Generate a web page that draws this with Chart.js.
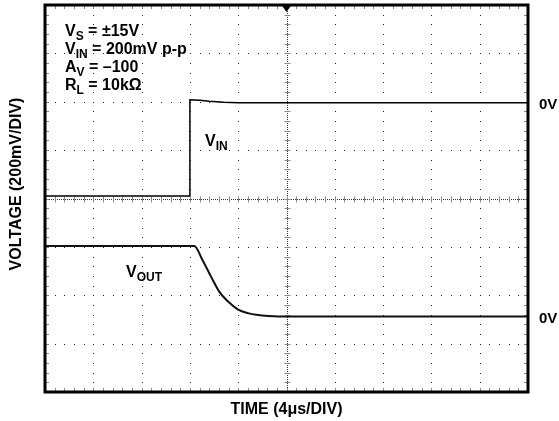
<!DOCTYPE html>
<html>
<head>
<meta charset="utf-8">
<script src="https://cdn.jsdelivr.net/npm/chart.js@4/dist/chart.umd.min.js"></script>
<style>
  html, body { margin: 0; padding: 0; background: #fff; }
  #wrap { width: 559px; height: 421px; }
</style>
</head>
<body>
<div id="wrap"><canvas id="scope"></canvas></div>
<script>
// graticule: 10 x 8 divisions (time 4us/div, voltage 200mV/div)
const xDivs = 10;
const yDivs = 8;

// V_IN trace (x in divisions, y in divisions from bottom)
const vinTime  = [0, 3.0, 3.0, 3.2, 3.4, 3.7, 4.0, 10];
const vinLevel = [4.05, 4.05, 6.04, 6.03, 6.01, 5.99, 5.98, 5.98];

// V_OUT trace
const voutTime  = [0, 3.09, 3.26, 3.44, 3.61, 3.79, 3.99, 4.2, 4.41, 4.62, 4.83, 5.24, 10];
const voutLevel = [3.02, 3.02, 2.73, 2.38, 2.07, 1.87, 1.71, 1.63, 1.59, 1.57, 1.56, 1.56, 1.56];

// "0V" reference markers on the right
const zeroLevels = [5.98, 1.56];

const FONT = '"Liberation Sans", Arial, sans-serif';

function toPoints(xs, ys) {
    return xs.map((v, i) => ({x: v, y: ys[i]}));
}

// draws text with a subscript part
function subText(ctx, x, y, main, sub, rest) {
    ctx.font = 'bold 16px ' + FONT;
    ctx.fillText(main, x, y);
    x += ctx.measureText(main).width;
    ctx.font = 'bold 12px ' + FONT;
    ctx.fillText(sub, x, y + 4);
    x += ctx.measureText(sub).width;
    if (rest) {
        ctx.font = 'bold 16px ' + FONT;
        ctx.fillText(rest, x, y);
    }
}

const graticule = {
    id: 'graticule',
    beforeDatasetsDraw(chart) {
        const {ctx, chartArea: a, scales: {x, y}} = chart;
        ctx.save();
        const midX = Math.round(x.getPixelForValue(xDivs / 2)) + 0.5;
        const midY = Math.round(y.getPixelForValue(yDivs / 2)) + 0.5;

        // dotted grid: one dot per minor step
        ctx.fillStyle = '#222';
        for (let i = 1; i < xDivs; i++) {
            if (i === xDivs / 2) continue;
            const px = Math.round(x.getPixelForValue(i));
            for (let j = 1; j < yDivs * 5; j++) {
                ctx.fillRect(px, Math.round(y.getPixelForValue(j * 0.2)), 1, 1);
            }
        }
        for (let j = 1; j < yDivs; j++) {
            if (j === yDivs / 2) continue;
            const py = Math.round(y.getPixelForValue(j));
            for (let i = 1; i < xDivs * 5; i++) {
                ctx.fillRect(Math.round(x.getPixelForValue(i * 0.2)), py, 1, 1);
            }
        }

        // centre cross with minor ticks
        ctx.strokeStyle = '#333';
        ctx.lineWidth = 1;
        ctx.setLineDash([1, 1]);
        ctx.beginPath();
        ctx.moveTo(midX, a.top); ctx.lineTo(midX, a.bottom);
        ctx.moveTo(a.left, midY); ctx.lineTo(a.right, midY);
        ctx.stroke();
        ctx.setLineDash([]);
        ctx.strokeStyle = '#888';
        ctx.beginPath();
        for (let j = 1; j < yDivs * 5; j++) {
            const py = Math.round(y.getPixelForValue(j * 0.2)) + 0.5;
            ctx.moveTo(midX - 3, py); ctx.lineTo(midX + 3, py);
            ctx.moveTo(a.left, py); ctx.lineTo(a.left + 4, py);
            ctx.moveTo(a.right - 4, py); ctx.lineTo(a.right, py);
        }
        for (let i = 1; i < xDivs * 5; i++) {
            const px = Math.round(x.getPixelForValue(i * 0.2)) + 0.5;
            ctx.moveTo(px, midY - 3); ctx.lineTo(px, midY + 3);
            ctx.moveTo(px, a.top); ctx.lineTo(px, a.top + 4);
            ctx.moveTo(px, a.bottom - 4); ctx.lineTo(px, a.bottom);
        }
        ctx.stroke();
        ctx.restore();
    },
    afterDraw(chart) {
        const {ctx, chartArea: a, scales: {x, y}} = chart;
        ctx.save();
        // frame
        ctx.strokeStyle = '#000';
        ctx.lineWidth = 3;
        ctx.strokeRect(a.left, a.top, a.right - a.left, a.bottom - a.top);

        // trigger marker
        const cx = x.getPixelForValue(xDivs / 2);
        ctx.fillStyle = '#000';
        ctx.beginPath();
        ctx.moveTo(cx - 5, a.top);
        ctx.lineTo(cx + 5, a.top);
        ctx.lineTo(cx, a.top + 7);
        ctx.closePath();
        ctx.fill();

        // conditions block
        ctx.textBaseline = 'alphabetic';
        ctx.textAlign = 'left';
        subText(ctx, 65, 36, 'V', 'S', ' = ±15V');
        subText(ctx, 65, 54, 'V', 'IN', ' = 200mV p-p');
        subText(ctx, 65, 72, 'A', 'V', ' = –100');
        subText(ctx, 65, 90, 'R', 'L', ' = 10kΩ');

        // trace labels
        subText(ctx, 205, 146, 'V', 'IN', '');
        subText(ctx, 126, 277, 'V', 'OUT', '');

        // 0V markers
        ctx.font = 'bold 15px ' + FONT;
        ctx.textBaseline = 'middle';
        zeroLevels.forEach(v => ctx.fillText('0V', 539, y.getPixelForValue(v) + 2));

        // axis titles
        ctx.font = 'bold 16px ' + FONT;
        ctx.textAlign = 'center';
        ctx.fillText('TIME (4μs/DIV)', (a.left + a.right) / 2, 410);
        ctx.translate(17, 184);
        ctx.rotate(-Math.PI / 2);
        ctx.fillText('VOLTAGE (200mV/DIV)', 0, 0);
        ctx.restore();
    }
};

new Chart(document.getElementById('scope'), {
    type: 'scatter',
    data: {
        datasets: [
            {
                label: 'VIN',
                data: toPoints(vinTime, vinLevel),
                showLine: true,
                borderColor: '#000',
                borderWidth: 1.5,
                pointRadius: 0,
                tension: 0
            },
            {
                label: 'VOUT',
                data: toPoints(voutTime, voutLevel),
                showLine: true,
                borderColor: '#111',
                borderWidth: 2,
                pointRadius: 0,
                cubicInterpolationMode: 'monotone'
            }
        ]
    },
    options: {
        responsive: true,
        maintainAspectRatio: false,
        animation: false,
        layout: {padding: {left: 45, top: 5, right: 31, bottom: 29}},
        plugins: {legend: {display: false}, tooltip: {enabled: false}},
        scales: {
            x: {type: 'linear', min: 0, max: xDivs, display: false},
            y: {type: 'linear', min: 0, max: yDivs, display: false}
        }
    },
    plugins: [graticule]
});
</script>
</body>
</html>
